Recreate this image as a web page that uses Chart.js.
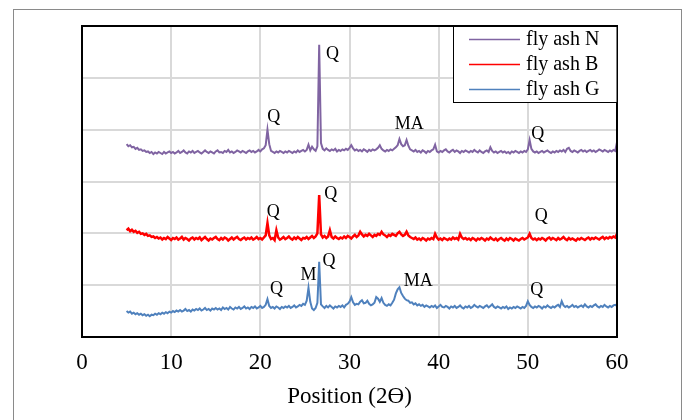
<!DOCTYPE html>
<html>
<head>
<meta charset="utf-8">
<script src="https://cdn.jsdelivr.net/npm/chart.js@4/dist/chart.umd.min.js"></script>
<style>
  html, body { margin: 0; padding: 0; background: #ffffff; }
  #wrap { width: 688px; height: 420px; }
</style>
</head>
<body>
<div id="wrap"><canvas id="c" width="688" height="420"></canvas></div>
<script>
// 2-theta positions (degrees)
const angles = [
  5,5.2,5.4,5.6,5.8,6,6.2,6.4,6.6,6.8,
  7,7.2,7.4,7.6,7.8,8,8.2,8.4,8.6,8.8,
  9,9.2,9.4,9.6,9.8,10,10.2,10.4,10.6,10.8,
  11,11.2,11.4,11.6,11.8,12,12.2,12.4,12.6,12.8,
  13,13.2,13.4,13.6,13.8,14,14.2,14.4,14.6,14.8,
  15,15.2,15.4,15.6,15.8,16,16.2,16.4,16.6,16.8,
  17,17.2,17.4,17.6,17.8,18,18.2,18.4,18.6,18.8,
  19,19.2,19.4,19.6,19.8,20,20.2,20.4,20.6,20.8,
  21,21.2,21.4,21.6,21.8,22,22.2,22.4,22.6,22.8,
  23,23.2,23.4,23.6,23.8,24,24.2,24.4,24.6,24.8,
  25,25.2,25.4,25.6,25.8,26,26.2,26.4,26.6,26.8,
  27,27.2,27.4,27.6,27.8,28,28.2,28.4,28.6,28.8,
  29,29.2,29.4,29.6,29.8,30,30.2,30.4,30.6,30.8,
  31,31.2,31.4,31.6,31.8,32,32.2,32.4,32.6,32.8,
  33,33.2,33.4,33.6,33.8,34,34.2,34.4,34.6,34.8,
  35,35.2,35.4,35.6,35.8,36,36.2,36.4,36.6,36.8,
  37,37.2,37.4,37.6,37.8,38,38.2,38.4,38.6,38.8,
  39,39.2,39.4,39.6,39.8,40,40.2,40.4,40.6,40.8,
  41,41.2,41.4,41.6,41.8,42,42.2,42.4,42.6,42.8,
  43,43.2,43.4,43.6,43.8,44,44.2,44.4,44.6,44.8,
  45,45.2,45.4,45.6,45.8,46,46.2,46.4,46.6,46.8,
  47,47.2,47.4,47.6,47.8,48,48.2,48.4,48.6,48.8,
  49,49.2,49.4,49.6,49.8,50,50.2,50.4,50.6,50.8,
  51,51.2,51.4,51.6,51.8,52,52.2,52.4,52.6,52.8,
  53,53.2,53.4,53.6,53.8,54,54.2,54.4,54.6,54.8,
  55,55.2,55.4,55.6,55.8,56,56.2,56.4,56.6,56.8,
  57,57.2,57.4,57.6,57.8,58,58.2,58.4,58.6,58.8,
  59,59.2,59.4,59.6,59.8,60
];

// intensities (offset patterns, arbitrary units)
const flyAshN = [
  372,368,370,366,367,363,365,361,362,359,
  360,357,358,355,357,353,356,354,357,355,
  353,357,354,356,358,355,357,354,356,359,
  355,357,360,356,354,358,356,359,355,357,
  359,356,354,357,360,357,355,358,356,354,
  358,360,356,357,355,359,357,361,356,358,
  355,357,360,358,356,359,357,355,358,360,
  357,359,356,358,361,358,362,364,370,400,
  372,359,357,355,358,356,359,357,355,358,
  356,359,357,355,358,356,360,357,359,361,
  358,361,371,360,367,362,359,368,564,374,
  363,360,364,361,359,362,360,363,358,361,
  359,362,360,363,361,365,370,364,360,362,
  359,361,358,362,360,357,361,359,362,360,
  362,365,370,363,360,358,361,359,362,360,
  363,366,370,382,372,368,370,380,369,362,
  360,358,361,357,359,356,360,358,355,359,
  357,360,362,371,358,356,359,357,360,362,
  358,356,359,361,357,360,358,355,359,357,
  360,358,356,359,357,361,358,356,360,357,
  355,358,360,357,366,359,356,358,355,357,
  359,356,358,355,357,354,358,356,359,357,
  355,358,356,359,357,362,380,363,358,356,
  358,355,357,359,356,358,360,357,355,358,
  356,359,357,360,358,361,357,363,365,359,
  357,360,358,356,359,361,358,360,357,359,
  361,358,360,357,359,362,360,358,361,359,
  357,360,358,361,359,376
];

const flyAshB = [
  206,209,204,207,203,205,201,203,199,200,
  197,199,195,196,193,194,191,193,190,192,
  188,191,189,193,190,187,191,189,192,188,
  190,193,188,191,189,186,190,192,188,191,
  189,192,187,190,193,189,186,190,188,191,
  193,189,187,191,188,192,190,186,189,192,
  188,191,193,189,187,190,192,188,191,189,
  192,188,190,193,189,191,188,192,196,220,
  196,189,191,187,206,192,188,190,193,189,
  191,194,190,188,192,189,193,190,187,191,
  190,193,189,192,195,191,194,200,274,198,
  192,195,191,194,206,193,190,194,191,189,
  192,190,194,191,195,193,190,194,197,193,
  196,203,198,194,197,195,199,196,193,197,
  195,199,197,203,198,196,193,197,195,199,
  197,195,200,203,198,195,197,203,196,193,
  191,189,192,188,190,187,191,189,186,190,
  188,191,189,199,192,188,190,187,191,189,
  187,190,188,192,189,191,188,199,192,189,
  191,188,190,187,191,189,186,190,188,191,
  189,186,190,188,192,189,187,190,186,189,
  191,188,186,190,187,191,189,186,190,188,
  186,189,191,188,190,192,199,191,188,190,
  187,190,188,191,189,186,190,192,188,191,
  189,187,191,188,190,193,189,187,191,188,
  190,188,186,190,188,191,189,187,190,192,
  188,191,189,192,190,188,191,193,189,192,
  190,193,191,194,192,199
];

const flyAshG = [
  50,47,49,45,47,44,46,43,45,42,
  44,41,43,40,43,42,45,43,46,44,
  47,45,48,46,49,47,50,48,51,49,
  52,49,51,54,50,52,49,53,51,54,
  52,55,51,53,56,52,54,51,55,53,
  56,53,55,52,57,54,56,53,58,55,
  53,57,55,58,54,56,59,55,57,54,
  58,56,59,55,57,60,56,58,62,73,
  60,56,58,55,59,57,54,58,56,59,
  57,60,56,58,61,57,59,62,60,64,
  62,70,95,68,55,52,56,66,145,63,
  59,56,60,57,61,58,55,59,57,60,
  58,61,57,62,64,68,77,67,62,64,
  63,68,71,65,66,70,64,61,63,66,
  77,74,68,75,66,62,60,63,61,66,
  72,84,92,96,85,79,74,71,70,66,
  67,63,65,61,63,60,62,58,61,59,
  57,60,58,61,56,59,62,58,57,60,
  58,55,59,57,60,56,58,61,57,55,
  59,57,60,56,58,62,59,57,60,58,
  56,59,61,57,60,63,58,56,59,57,
  55,58,56,59,54,57,55,58,56,59,
  57,55,58,56,60,69,62,58,56,59,
  57,60,58,55,59,57,61,58,56,59,
  57,60,62,58,69,61,58,60,57,59,
  62,58,60,57,59,61,58,63,59,57,
  60,58,61,63,59,57,60,58,62,59,
  57,60,58,61,62,60
];

const seriesNames = ['fly ash N', 'fly ash B', 'fly ash G'];
const xTickValues = [0, 10, 20, 30, 40, 50, 60];

// peak annotations (phase letter, angle, intensity level)
const peakText = ['Q','Q','MA','Q', 'Q','Q','Q', 'Q','M','Q','MA','Q'];
const peakAngle = [21.5,28.1,36.7,51.1, 21.45,27.9,51.5, 21.8,25.4,27.7,37.7,51.0];
const peakLevel = [423,546,411,392, 241,276,232, 93,120,147,107,91];

const serif = "'Liberation Serif', 'Times New Roman', serif";

const framePlugin = {
  id: 'frame',
  beforeDraw(chart) {
    const ctx = chart.ctx;
    ctx.save();
    ctx.fillStyle = '#ffffff';
    ctx.fillRect(0, 0, chart.width, chart.height);
    ctx.strokeStyle = '#8a8a8a';
    ctx.lineWidth = 1;
    ctx.strokeRect(13.5, 9.5, 668, 430);
    ctx.restore();
  },
  afterDatasetsDraw(chart) {
    const ctx = chart.ctx;
    const a = chart.chartArea;
    ctx.save();
    ctx.strokeStyle = '#000000';
    ctx.lineWidth = 2;
    ctx.strokeRect(a.left, a.top, a.right - a.left, a.bottom - a.top);
    ctx.restore();
  },
  afterDraw(chart) {
    const ctx = chart.ctx;
    const xs = chart.scales.x, ys = chart.scales.y;
    ctx.save();
    // peak labels
    ctx.fillStyle = '#000000';
    ctx.font = '18px ' + serif;
    ctx.textAlign = 'center';
    ctx.textBaseline = 'middle';
    for (let i = 0; i < peakText.length; i++) {
      ctx.fillText(peakText[i], xs.getPixelForValue(peakAngle[i]), ys.getPixelForValue(peakLevel[i]));
    }
    // legend box
    const a = chart.chartArea;
    const bx = 453.5, by = a.top, bw = a.right - 453.5, bh = 76;
    ctx.fillStyle = '#ffffff';
    ctx.fillRect(bx, by, bw, bh);
    ctx.strokeStyle = '#000000';
    ctx.lineWidth = 1;
    ctx.strokeRect(bx, by + 0.5, bw, bh);
    ctx.font = '20px ' + serif;
    ctx.textAlign = 'left';
    ctx.textBaseline = 'middle';
    chart.data.datasets.forEach((ds, i) => {
      const y = by + 13 + i * 25;
      ctx.strokeStyle = ds.borderColor;
      ctx.lineWidth = 1.5;
      ctx.beginPath();
      ctx.moveTo(469, y + 0.5);
      ctx.lineTo(520, y + 0.5);
      ctx.stroke();
      ctx.fillStyle = '#000000';
      ctx.fillText(ds.label, 526, y + 1);
    });
    ctx.restore();
  }
};

new Chart(document.getElementById('c'), {
  type: 'line',
  data: {
    labels: angles,
    datasets: [
      { label: seriesNames[0], data: flyAshN, borderColor: '#8064a2', borderWidth: 2 },
      { label: seriesNames[1], data: flyAshB, borderColor: '#ff0000', borderWidth: 2.5 },
      { label: seriesNames[2], data: flyAshG, borderColor: '#4f81bd', borderWidth: 2 }
    ]
  },
  options: {
    responsive: false,
    animation: false,
    events: [],
    elements: { point: { radius: 0 }, line: { tension: 0 } },
    layout: { padding: { left: 0, right: 71, top: 26, bottom: 0 } },
    plugins: { legend: { display: false }, tooltip: { enabled: false } },
    scales: {
      x: {
        type: 'linear',
        min: 0, max: 60,
        afterBuildTicks: s => { s.ticks = xTickValues.map(v => ({ value: v })); },
        afterFit: s => { s.height = 83; },
        border: { display: false },
        grid: { color: '#d9d9d9', lineWidth: 2, drawTicks: false },
        ticks: { color: '#000000', font: { family: serif, size: 23 }, padding: 12, maxRotation: 0 },
        title: { display: true, text: 'Position (2Ө)', color: '#000000', font: { family: serif, size: 23 }, padding: { top: 0, bottom: 9 } }
      },
      y: {
        min: 0, max: 600,
        ticks: { display: false, stepSize: 100 },
        afterFit: s => { s.width = 82; },
        border: { display: false },
        grid: { color: '#d9d9d9', lineWidth: 2, drawTicks: false }
      }
    }
  },
  plugins: [framePlugin]
});
</script>
</body>
</html>
